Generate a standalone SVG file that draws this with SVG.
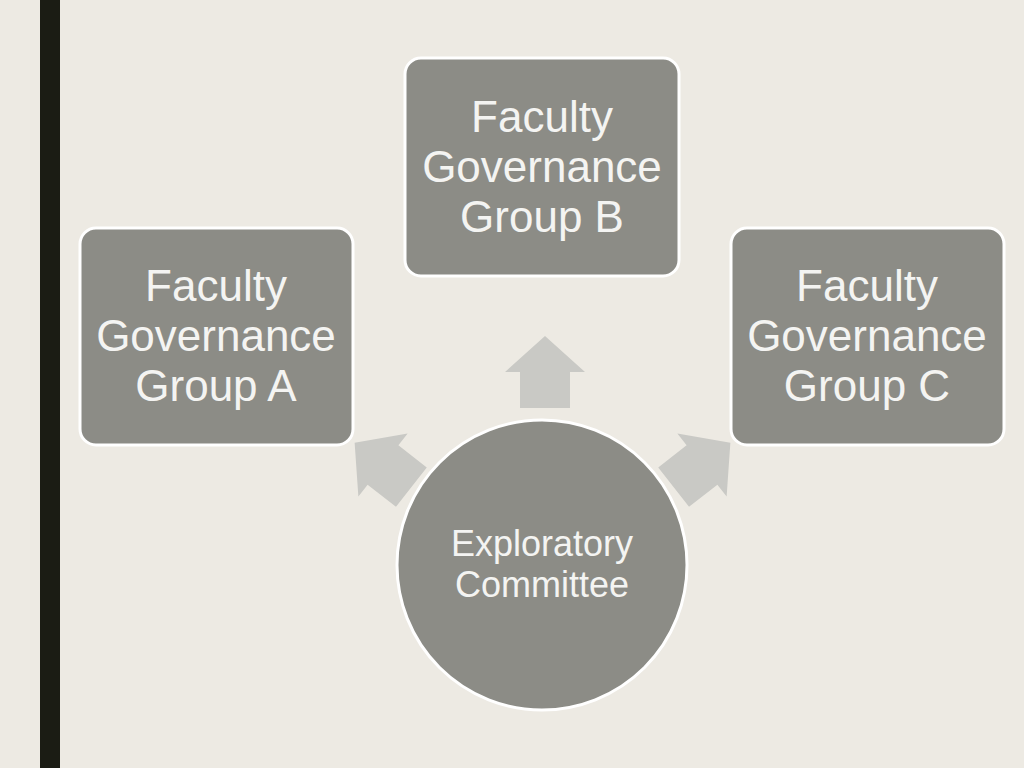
<svg xmlns="http://www.w3.org/2000/svg" width="1024" height="768" viewBox="0 0 1024 768">
<defs>
<style>
.box{fill:#8C8C86;stroke:#FFFFFF;stroke-width:3}
.t{fill:#F4F4F2;font-family:"Liberation Sans",Arial,sans-serif;font-size:44px;text-anchor:middle}
.ct{fill:#F4F4F2;font-family:"Liberation Sans",Arial,sans-serif;font-size:36px;text-anchor:middle}
.arr{fill:#C9C9C5}
</style>
<path id="ar" d="M0,-36 L40,0 L25,0 L25,36 L-25,36 L-25,0 L-40,0 Z"/>
</defs>
<rect width="1024" height="768" fill="#EDEAE3"/>
<rect x="40" y="0" width="20" height="768" fill="#1B1C14"/>
<g id="connectors" class="arr">
<use href="#ar" transform="translate(545,372)"/>
<use href="#ar" transform="translate(383,465) rotate(-52)"/>
<use href="#ar" transform="translate(702,465) rotate(52)"/>
</g>
<g id="groupB"><rect class="box" x="405" y="58" width="274" height="218" rx="16"/>
<text class="t" x="542" y="132">Faculty</text><text class="t" x="542" y="182">Governance</text><text class="t" x="542" y="232">Group B</text></g>
<g id="groupA"><rect class="box" x="80" y="228" width="273" height="217" rx="16"/>
<text class="t" x="216" y="301">Faculty</text><text class="t" x="216" y="351">Governance</text><text class="t" x="216" y="401">Group A</text></g>
<g id="groupC"><rect class="box" x="731" y="228" width="273" height="217" rx="16"/>
<text class="t" x="867" y="301">Faculty</text><text class="t" x="867" y="351">Governance</text><text class="t" x="867" y="401">Group C</text></g>
<g id="committee"><circle class="box" cx="542" cy="565" r="145"/>
<text class="ct" x="542" y="556">Exploratory</text><text class="ct" x="542" y="597">Committee</text></g>
</svg>
